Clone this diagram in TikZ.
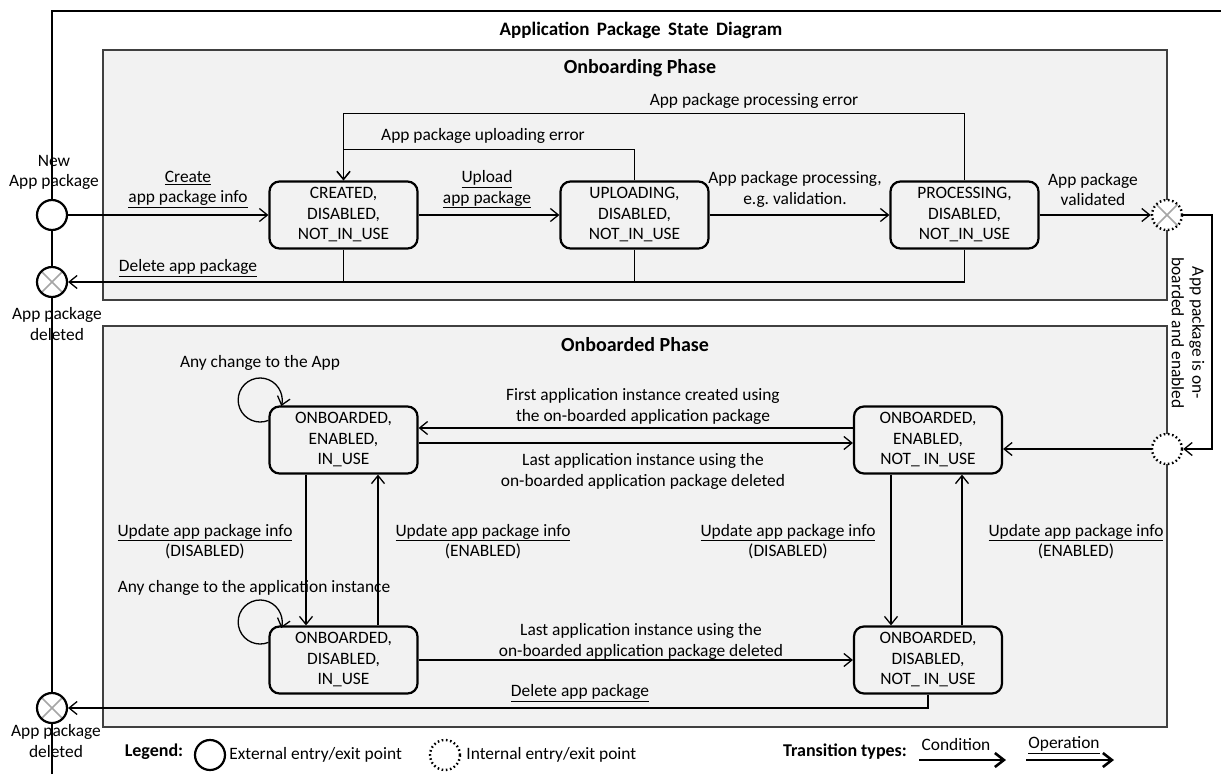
\documentclass[tikz,border=0pt]{standalone}
\usepackage{fontspec}
\setmainfont{Carlito}
\usetikzlibrary{positioning, arrows.meta}
\definecolor{phasegray}{HTML}{F2F2F2}
\definecolor{framegray}{HTML}{404040}
\definecolor{crossgray}{HTML}{A6A6A6}
\tikzset{
  pkgstate/.style = {draw, line width=2.2pt, rounded corners=10pt, fill=phasegray, minimum width=148pt, minimum height=67pt, align=center, inner sep=2pt},
  phasebox/.style = {draw=framegray, line width=1.6pt, fill=phasegray, inner sep=0pt},
  extpoint/.style = {circle, draw, line width=2.2pt, fill=white, minimum size=30pt, inner sep=0pt},
  intpoint/.style = {circle, draw, line width=2.4pt, dash pattern=on 1.6pt off 2.6pt, fill=white, minimum size=30pt, inner sep=0pt},
  crossed/.style  = {path picture={\draw[solid, crossgray, line width=1.6pt] (path picture bounding box.north west) -- (path picture bounding box.south east) (path picture bounding box.north east) -- (path picture bounding box.south west);}},
  lbl/.style      = {align=center, inner sep=0pt},
  heading/.style  = {font=\fontsize{20}{24}\selectfont\bfseries, inner sep=0pt},
  legheading/.style = {font=\fontsize{18}{22}\selectfont\bfseries, inner sep=0pt},
  wire/.style     = {line width=1.3pt},
  arrow/.style    = {-{Straight Barb[length=8pt, width=13pt]}, line width=1.3pt},
  legarrow/.style = {-{Straight Barb[length=9pt, width=14pt]}, line width=2.6pt}
}
\begin{document}
\begin{tikzpicture}[x=1pt, y=-1pt, font=\fontsize{17.4}{20.5}\selectfont]
  \useasboundingbox (0,0) rectangle (1221,774);
  \draw[line width=1.6pt] (52,774) -- (52,11) -- (1221,11);
  \node[heading, font=\fontsize{19}{23}\selectfont\bfseries] (title) at (641,30) {Application\ \,Package\ \,State\ \,Diagram};

  \node[phasebox, minimum width=1064pt, minimum height=250pt] (onboarding) at (635,175) {};
  \node[heading] (onboardingtitle) at (640,68) {Onboarding Phase};
  \node[phasebox, minimum width=1064pt, minimum height=401pt] (onboarded) at (635,526.5) {};
  \node[heading] (onboardedtitle) at (635,345) {Onboarded Phase};

  \node[pkgstate] (created)          at (343.5,215) {CREATED,\\DISABLED,\\NOT\_IN\_USE};
  \node[pkgstate] (uploading)        at (634.5,215) {UPLOADING,\\DISABLED,\\NOT\_IN\_USE};
  \node[pkgstate] (processing)       at (964.5,215) {PROCESSING,\\DISABLED,\\NOT\_IN\_USE};
  \node[pkgstate] (enabledinuse)     at (343.5,440) {ONBOARDED,\\ENABLED,\\IN\_USE};
  \node[pkgstate] (enablednotinuse)  at (928,440)   {ONBOARDED,\\ENABLED,\\NOT\_ IN\_USE};
  \node[pkgstate] (disabledinuse)    at (343.5,660) {ONBOARDED,\\DISABLED,\\IN\_USE};
  \node[pkgstate] (disablednotinuse) at (928,660)   {ONBOARDED,\\DISABLED,\\NOT\_ IN\_USE};

  \node[extpoint] (newpkg) at (52,215) {};
  \node[extpoint, crossed] (deleted1) at (52,282) {};
  \node[extpoint, crossed] (deleted2) at (52,708) {};
  \node[intpoint, crossed] (exitpt) at (1167,215) {};
  \node[intpoint] (entrypt) at (1167,449) {};
  \node[lbl] (newlbl)  at (54,172.5) {New\\App package};
  \node[lbl] (del1lbl) at (57,324)   {App package\\deleted};
  \node[lbl] (del2lbl) at (56,741)   {App package\\deleted};

  \draw[arrow] (newpkg) -- (created);
  \node[lbl] (createlbl) at (188,189.5) {\underline{Create}\\\underline{app package info}};
  \draw[arrow] (created) -- (uploading);
  \node[lbl] (uploadlbl) at (487,189.5) {\underline{Upload}\\\underline{app package}};
  \draw[arrow] (uploading) -- (processing);
  \node[lbl] (processlbl) at (795,189.5) {App package processing,\\e.g.\ validation.};
  \draw[arrow] (processing) -- (exitpt);
  \node[lbl] (validlbl) at (1093,189.5) {App package\\validated};
  \draw[arrow] (uploading.north) -- ++(0,-31) -| (created.north);
  \node[lbl] (uploaderrlbl) at (483,136) {App package uploading error};
  \draw[arrow] (processing.north) -- ++(0,-67) -| (created.north);
  \node[lbl] (processerrlbl) at (754,101) {App package processing error};
  \draw[wire] (created.south) -- (created.south |- deleted1);
  \draw[wire] (uploading.south) -- (uploading.south |- deleted1);
  \draw[arrow] (processing.south) |- (deleted1);
  \node[lbl] (del1oplbl) at (188,268) {\underline{Delete app package}};

  \draw[arrow] (exitpt) -- ++(45,0) |- (entrypt);
  \node[lbl, rotate=-90] (onboardlbl) at (1188,333) {App package is on-\\boarded and enabled};
  \draw[arrow] (entrypt) -- (entrypt -| enablednotinuse.east);

  \draw[arrow] ([yshift=12pt]enablednotinuse.west) -- ([yshift=12pt]enabledinuse.east);
  \node[lbl] (firstlbl) at (643,406.5) {First application instance created using\\the on-boarded application package};
  \draw[arrow] ([yshift=-3pt]enabledinuse.east) -- ([yshift=-3pt]enablednotinuse.west);
  \node[lbl] (last1lbl) at (643,471.5) {Last application instance using the\\on-boarded application package deleted};
  \draw[arrow] ([yshift=-15pt]enabledinuse.north west) arc[start angle=68, end angle=376, radius=22];
  \node[lbl] (app1lbl) at (260,363) {Any change to the App};

  \draw[arrow] ([xshift=-37.5pt]enabledinuse.south) -- ([xshift=-37.5pt]disabledinuse.north);
  \node[lbl] (dis1lbl) at (205,541.5) {\underline{Update app package info}\\(DISABLED)};
  \draw[arrow] ([xshift=34.5pt]disabledinuse.north) -- ([xshift=34.5pt]enabledinuse.south);
  \node[lbl] (en1lbl) at (483,541.5) {\underline{Update app package info}\\(ENABLED)};
  \draw[arrow] ([xshift=-37pt]enablednotinuse.south) -- ([xshift=-37pt]disablednotinuse.north);
  \node[lbl] (dis2lbl) at (788,541.5) {\underline{Update app package info}\\(DISABLED)};
  \draw[arrow] ([xshift=34pt]disablednotinuse.north) -- ([xshift=34pt]enablednotinuse.south);
  \node[lbl] (en2lbl) at (1076,541.5) {\underline{Update app package info}\\(ENABLED)};

  \draw[arrow] ([yshift=-17pt]disabledinuse.north west) arc[start angle=68, end angle=376, radius=22];
  \node[lbl] (app2lbl) at (254,588) {Any change to the application instance};
  \draw[arrow] (disabledinuse) -- (disablednotinuse);
  \node[lbl] (last2lbl) at (641,641.5) {Last application instance using the\\on-boarded application package deleted};
  \draw[arrow] (disablednotinuse.south) |- (deleted2);
  \node[lbl] (del2oplbl) at (580,693) {\underline{Delete app package}};

  \node[legheading] (legendlbl) at (154,752) {Legend:};
  \node[extpoint] (legext) at (210,755) {};
  \node[lbl, right=3pt of legext] (legextlbl) {External entry/exit point};
  \node[intpoint] (legint) at (445,755) {};
  \node[lbl, right=5pt of legint] (legintlbl) {Internal entry/exit point};
  \node[legheading] (translbl) at (845,752) {Transition types:};
  \coordinate (condA) at (919,760);
  \coordinate (condB) at (1006,760);
  \draw[legarrow] (condA) -- (condB);
  \node[lbl] (condlbl) at (956,745) {Condition};
  \coordinate (operA) at (1026,760);
  \coordinate (operB) at (1114,760);
  \draw[legarrow] (operA) -- (operB);
  \node[lbl] (operlbl) at (1064,745) {\underline{Operation}};
\end{tikzpicture}
\end{document}
